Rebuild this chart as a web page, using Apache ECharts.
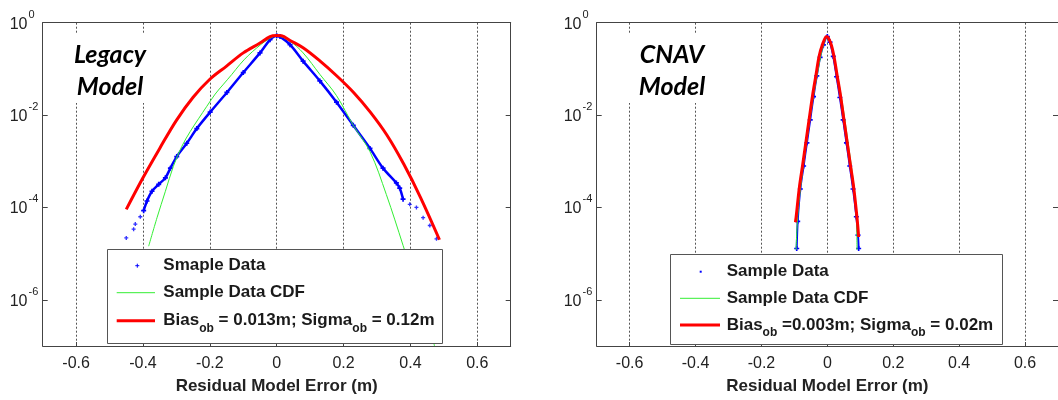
<!DOCTYPE html>
<html><head><meta charset="utf-8">
<script src="https://cdn.jsdelivr.net/npm/echarts@6/dist/echarts.min.js"></script>
<style>html,body{margin:0;padding:0;background:#fff}#c{width:1058px;height:400px}</style>
</head><body><div id="c"></div>
<script>
// ---- tick labels ----
const xTicks = [-0.6, -0.4, -0.2, 0, 0.2, 0.4, 0.6];
const yTicks = [1e-6, 1e-4, 1e-2, 1];
const xName = 'Residual Model Error (m)';

// ---- Legacy model ----
const legacySampleX = [-0.398,-0.388,-0.373,-0.353,-0.333,-0.318,-0.299,-0.269,-0.239,-0.199,-0.149,-0.10,-0.05,-0.02,0,0.01,0.04,0.079,0.129,0.179,0.229,0.279,0.318,0.358,0.368,0.378];
const legacySampleY = [8.5e-5,1.38e-4,2.24e-4,3.16e-4,4.37e-4,7.1e-4,1.26e-3,2.45e-3,5.1e-3,0.0116,0.0309,0.0832,0.222,0.427,0.52,0.50,0.334,0.147,0.055,0.019,6.0e-3,1.9e-3,7.1e-4,3.39e-4,2.63e-4,1.51e-4];
const legacyTailX = [-0.45,-0.428,-0.423,-0.408,0.398,0.418,0.438,0.458,0.478];
const legacyTailY = [2.19e-5,3.39e-5,4.37e-5,6.3e-5,1.17e-4,1.0e-4,6.0e-5,4.07e-5,2.09e-5];
const legacyCdfX = [-0.383,-0.358,-0.333,-0.309,-0.284,-0.259,-0.234,-0.209,-0.184,-0.159,-0.134,-0.11,-0.085,-0.06,-0.035,-0.01,0,0.04,0.079,0.129,0.179,0.229,0.279,0.328,0.378,0.467,0.472];
const legacyCdfY = [1.45e-5,6.0e-5,2.24e-4,7.8e-4,2.09e-3,4.37e-3,8.3e-3,0.0155,0.0285,0.0468,0.0762,0.125,0.195,0.283,0.394,0.50,0.52,0.394,0.222,0.0762,0.0263,6.0e-3,1.62e-3,1.9e-4,1.51e-5,1.41e-7,1.0e-7];
const legacyFitX = [-0.45,-0.40,-0.35,-0.30,-0.25,-0.20,-0.15,-0.10,-0.05,-0.02,0.0,0.015,0.04,0.08,0.13,0.18,0.23,0.28,0.33,0.38,0.43,0.487];
const legacyFitY = [9.1e-5,4.4e-4,1.9e-3,7.7e-3,0.0243,0.0597,0.115,0.222,0.363,0.50,0.525,0.52,0.412,0.283,0.147,0.0702,0.0309,0.0116,3.66e-3,8.7e-4,1.66e-4,2.0e-5];

// ---- CNAV model ----
const cnavSampleX = [-0.093,-0.09,-0.082,-0.072,-0.062,-0.052,-0.042,-0.032,-0.022,-0.012,0,0.008,0.018,0.028,0.038,0.048,0.058,0.068,0.078,0.088,0.093,0.095];
const cnavSampleY = [1.29e-5,5.0e-5,2.51e-4,7.9e-4,2.51e-3,7.9e-3,0.0251,0.0708,0.178,0.331,0.50,0.38,0.186,0.0676,0.024,7.9e-3,2.51e-3,7.9e-4,2.51e-4,6.3e-5,2.51e-5,1.29e-5];
const cnavCdfX = [-0.095,-0.09,-0.08,-0.07,-0.06,-0.05,-0.04,-0.03,-0.02,-0.01,0,0.01,0.02,0.03,0.04,0.05,0.06,0.07,0.08,0.088,0.09];
const cnavCdfY = [1.2e-5,6.3e-5,3.16e-4,1.12e-3,3.55e-3,0.0112,0.0316,0.0794,0.191,0.355,0.50,0.355,0.191,0.0794,0.0316,0.0112,3.55e-3,1.12e-3,3.16e-4,6.3e-5,1.2e-5];
const cnavFitX = [-0.097,-0.095,-0.085,-0.075,-0.065,-0.055,-0.045,-0.035,-0.025,-0.015,-0.002,0.01,0.02,0.03,0.04,0.05,0.06,0.07,0.08,0.09,0.095];
const cnavFitY = [4.8e-5,6.0e-5,2.69e-4,8.3e-4,2.63e-3,8.3e-3,0.0263,0.0702,0.188,0.334,0.50,0.363,0.188,0.0702,0.0263,8.3e-3,2.63e-3,8.3e-4,2.69e-4,6.0e-5,2.29e-5];

const pairs = (xs, ys) => xs.map((x, i) => [x, ys[i]]);

const FONT = 'Liberation Sans, Arial, sans-serif';
const AX = '#444';
const PLUS = 'path://M1,0H2V1H3V2H2V3H1V2H0V1H1Z';

function xAxes(gi) {
  return [
    { gridIndex: gi, type: 'value', min: -0.7, max: 0.7, position: 'bottom',
      axisLine: { show: true, onZero: false, lineStyle: { color: AX, width: 1 } },
      axisTick: { show: true, inside: true, length: 4, customValues: xTicks, lineStyle: { color: AX } },
      axisLabel: { customValues: xTicks, margin: 10, fontFamily: FONT, fontSize: 16, color: '#222', formatter: v => String(v) },
      splitLine: { show: true, lineStyle: { color: '#555', type: [2, 2], width: 1 } },
      name: xName, nameLocation: 'middle', nameGap: 32,
      nameTextStyle: { fontFamily: FONT, fontSize: 17, fontWeight: 'bold', color: '#222' } },
    { gridIndex: gi, type: 'value', min: -0.7, max: 0.7, position: 'top',
      axisLine: { show: true, onZero: false, lineStyle: { color: AX, width: 1 } },
      axisTick: { show: false }, axisLabel: { show: false }, splitLine: { show: false } }
  ];
}
function yAxes(gi) {
  return [
    { gridIndex: gi, type: 'log', logBase: 10, min: 1e-7, max: 1, position: 'left',
      axisLine: { show: true, onZero: false, lineStyle: { color: AX, width: 1 } },
      axisTick: { show: true, inside: true, length: 5, customValues: yTicks, lineStyle: { color: AX } },
      axisLabel: { customValues: yTicks, align: 'left', margin: 33,
        formatter: v => '{b|10}{s|' + Math.round(Math.log10(v)) + '}',
        rich: { b: { fontFamily: FONT, fontSize: 16, color: '#222', padding: [3, 0, 0, 0] },
                s: { fontFamily: FONT, fontSize: 11, color: '#222', padding: [0, 0, 16, 1] } } },
      splitLine: { show: false }, minorTick: { show: false } },
    { gridIndex: gi, type: 'log', logBase: 10, min: 1e-7, max: 1, position: 'right',
      axisLine: { show: true, onZero: false, lineStyle: { color: AX, width: 1 } },
      axisTick: { show: true, inside: true, length: 5, customValues: yTicks, lineStyle: { color: AX } },
      axisLabel: { show: false }, splitLine: { show: false } }
  ];
}

function seriesFor(xi, yi, sx, sy, tx, ty, cx, cy, fx, fy, blueW) {
  const out = [
    { type: 'line', name: 'sample', xAxisIndex: xi, yAxisIndex: yi, data: pairs(sx, sy),
      showSymbol: true, symbol: PLUS, symbolSize: 5, itemStyle: { color: '#0000ff' }, smooth: 0.3,
      lineStyle: { color: '#0000ff', width: blueW }, animation: false, silent: true, z: 2 },
    { type: 'line', name: 'cdf', xAxisIndex: xi, yAxisIndex: yi, data: pairs(cx, cy), smooth: 0.35,
      showSymbol: false, lineStyle: { color: '#33ee33', width: 1 }, animation: false, silent: true, z: 3 },
    { type: 'line', name: 'fit', xAxisIndex: xi, yAxisIndex: yi, data: pairs(fx, fy), smooth: 0.35,
      showSymbol: false, lineStyle: { color: '#ff0000', width: 3 }, animation: false, silent: true, z: 4 }
  ];
  if (tx) out.push({ type: 'scatter', xAxisIndex: xi, yAxisIndex: yi, data: pairs(tx, ty),
      symbol: PLUS, symbolSize: 4, itemStyle: { color: '#0000ff' }, animation: false, silent: true, z: 2 });
  return out;
}

function legend(x, y, w, h, rows, mx, lx1, lx2, tx, texts, dotOnly) {
  const els = [];
  els.push({ type: 'rect', z: 100, shape: { x: x, y: y, width: w, height: h },
    style: { fill: '#fff', stroke: '#555', lineWidth: 1 } });
  if (dotOnly) {
    els.push({ type: 'rect', z: 101, shape: { x: mx - 1, y: rows[0] - 1, width: 2, height: 2 }, style: { fill: '#0000ff' } });
  } else {
    els.push({ type: 'line', z: 101, shape: { x1: mx - 2, y1: rows[0], x2: mx + 2, y2: rows[0] }, style: { stroke: '#0000ff', lineWidth: 1 } });
    els.push({ type: 'line', z: 101, shape: { x1: mx, y1: rows[0] - 2, x2: mx, y2: rows[0] + 2 }, style: { stroke: '#0000ff', lineWidth: 1 } });
  }
  els.push({ type: 'line', z: 101, shape: { x1: lx1, y1: rows[1], x2: lx2, y2: rows[1] }, style: { stroke: '#33ee33', lineWidth: 1 } });
  els.push({ type: 'line', z: 101, shape: { x1: lx1, y1: rows[2], x2: lx2, y2: rows[2] }, style: { stroke: '#ff0000', lineWidth: 3 } });
  texts.forEach((t, i) => {
    els.push({ type: 'text', z: 101, style: { x: tx, y: rows[i], text: t, textVerticalAlign: 'middle',
      font: 'bold 17px ' + FONT, fill: '#1a1a1a',
      rich: { t: { font: 'bold 17px ' + FONT, fill: '#1a1a1a' },
              sub: { font: 'bold 12px ' + FONT, fill: '#1a1a1a', padding: [15, 0, 0, 0] } } } });
  });
  return els;
}

function modelLabel(cx, text, rx) {
  return [
    { type: 'rect', z: 100, shape: { x: rx, y: 33, width: 98, height: 70 }, style: { fill: '#fff' } },
    { type: 'text', z: 101, style: { x: cx, y: 71, text: text, textAlign: 'center', textVerticalAlign: 'middle',
      font: 'italic bold 25px Lato, sans-serif', lineHeight: 32, fill: '#000' } }
  ];
}

const chart = echarts.init(document.getElementById('c'), null, { renderer: 'canvas' });
chart.setOption({
  backgroundColor: '#fff',
  animation: false,
  grid: [
    { left: 42.7, top: 22.7, width: 468, height: 330.6 },
    { left: 596.7, top: 22.7, width: 468.3, height: 330.6 }
  ],
  xAxis: [...xAxes(0), ...xAxes(1)],
  yAxis: [...yAxes(0), ...yAxes(1)],
  series: [
    ...seriesFor(0, 0, legacySampleX, legacySampleY, legacyTailX, legacyTailY, legacyCdfX, legacyCdfY, legacyFitX, legacyFitY, 2.5),
    ...seriesFor(2, 2, cnavSampleX, cnavSampleY, null, null, cnavCdfX, cnavCdfY, cnavFitX, cnavFitY, 2)
  ],
  graphic: [
    ...modelLabel(110, 'Legacy\nModel', 62),
    ...modelLabel(672, 'CNAV\nModel', 622),
    ...legend(107.5, 249.5, 335, 94, [265.7, 292.7, 320.7], 137.3, 116.7, 155, 163.3,
      ['Smaple Data', 'Sample Data CDF', '{t|Bias}{sub|ob}{t| = 0.013m; Sigma}{sub|ob}{t| = 0.12m}'], false),
    ...legend(670.5, 254.5, 332, 90, [271.7, 298.3, 325], 700.7, 680, 720, 726.7,
      ['Sample Data', 'Sample Data CDF', '{t|Bias}{sub|ob}{t| =0.003m; Sigma}{sub|ob}{t| = 0.02m}'], true)
  ]
});
</script></body></html>
